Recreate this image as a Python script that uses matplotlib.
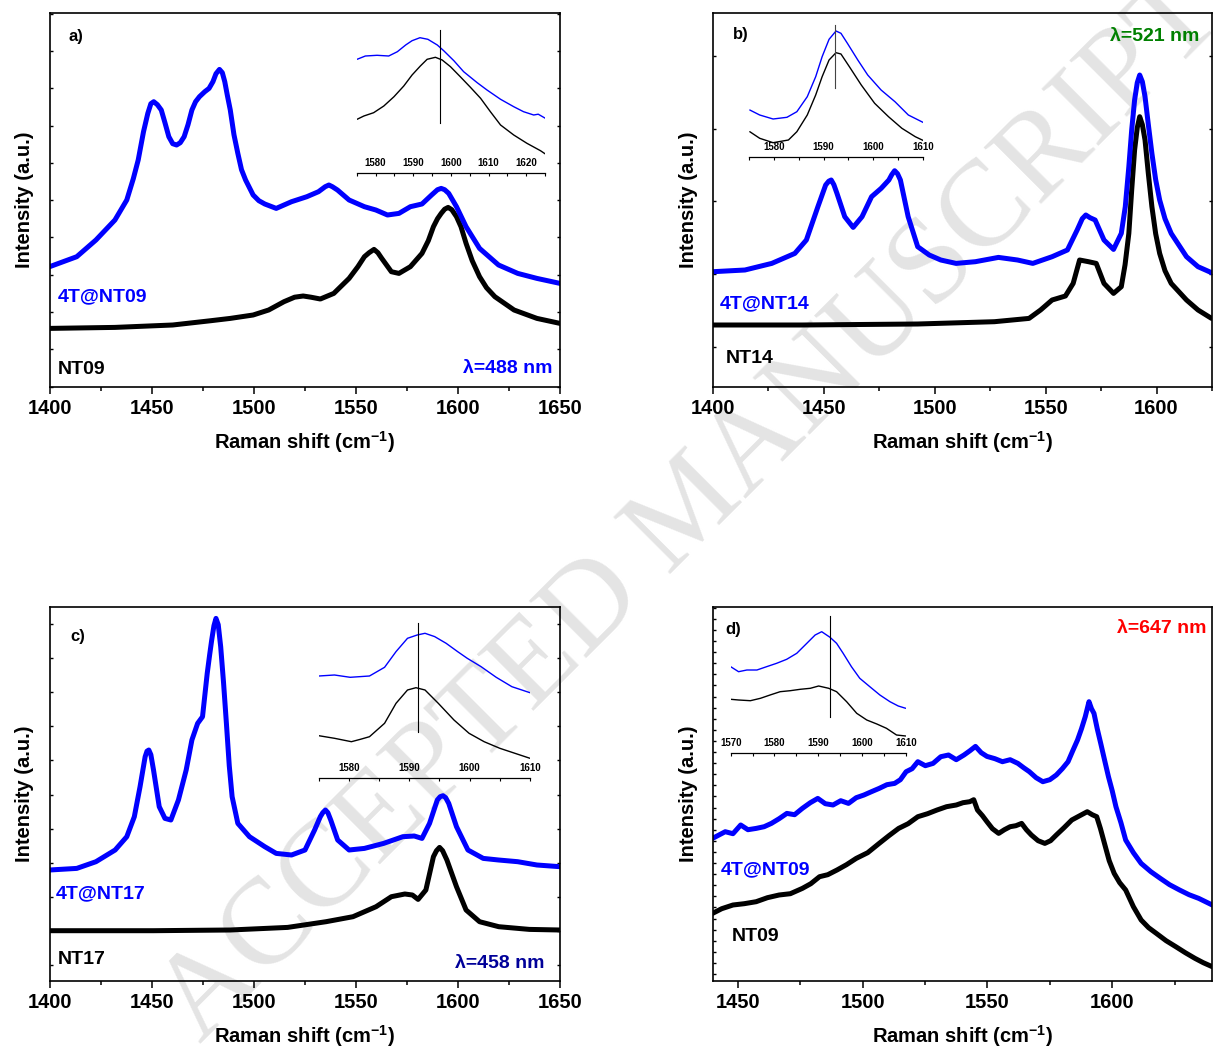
import matplotlib

matplotlib.use("Agg")
import matplotlib.pyplot as plt
import numpy as np
from matplotlib.ticker import FixedLocator, MultipleLocator

plt.rcParams["font.family"] = ["Liberation Sans", "DejaVu Sans"]
plt.rcParams["font.weight"] = "bold"
plt.rcParams["axes.labelweight"] = "bold"
plt.rcParams["mathtext.fontset"] = "custom"
plt.rcParams["mathtext.rm"] = "Liberation Sans:bold"
plt.rcParams["mathtext.bf"] = "Liberation Sans:bold"
plt.rcParams["mathtext.default"] = "rm"

W, H = 1214, 1053
BLUE = "#0000ff"

# ---- panel a: lambda = 488 nm, NT09 / 4T@NT09 ----
a_blue_x = [1400, 1413.3, 1422.7, 1432, 1437.8, 1441, 1443.4, 1446, 1448.1, 1449.6, 1451, 1452.8,
            1454.7, 1456.5, 1458.4, 1460.3, 1462.2, 1464, 1465.9, 1467.8, 1469.7, 1471.5, 1473.4, 1476,
            1478.1, 1480, 1481.5, 1483.2, 1484.6, 1485.8, 1487, 1488.5, 1490.3, 1492.2, 1494, 1496,
            1499.7, 1502.5, 1505.4, 1511, 1518.5, 1526, 1531.7, 1535, 1536.8, 1538.5, 1541, 1546.7,
            1554.2, 1559.8, 1565.5, 1571.1, 1576.7, 1582.4, 1587.1, 1590, 1591.8, 1593.5, 1595.5,
            1599.3, 1604, 1610.6, 1619.9, 1629.3, 1638.7, 1650]
a_blue_y = [120, 130, 146.7, 166.7, 186.7, 208, 226.7, 255, 273.3, 283, 285, 282,
            276.7, 264, 250, 243, 241.7, 244, 250, 262, 276.7, 285, 290, 295,
            298.3, 305, 313, 317.3, 314, 305, 292, 276.7, 252, 233.3, 217, 206.7,
            191.7, 186, 182.7, 178.3, 185, 190, 195, 200, 201.7, 200, 196.7, 186.7,
            180, 176.7, 171.7, 173.3, 180, 182.7, 191.7, 197, 198.3, 197, 193.3,
            180, 160, 138.3, 121.7, 113.3, 108.3, 103.3]
a_black_x = [1400, 1432, 1460.3, 1479, 1488.5, 1499.7, 1507.3, 1514.8, 1520, 1524.2, 1528, 1532.6,
             1539.2, 1546.7, 1551, 1554.2, 1556.5, 1558.9, 1560.8, 1562.7, 1567.4, 1571.1, 1576.7,
             1582.4, 1585.5, 1588, 1590, 1591.8, 1593.5, 1595.2, 1597, 1599.3, 1601.5, 1604, 1607,
             1610.6, 1614, 1618.1, 1627.5, 1638.7, 1650]
a_black_y = [58.3, 59.3, 61.7, 66, 68.3, 71.7, 76.7, 85, 89.5, 90.7, 89.5, 87.7,
             93.3, 108.3, 120, 130, 134, 137.3, 134, 128.3, 115, 113.3, 120,
             133.3, 146, 160, 168, 173.3, 177.5, 179.3, 177, 170, 160, 143.3, 126,
             110, 99, 90, 76.7, 68.3, 63.3]
a_ins_blue_x = [1575.1, 1577.3, 1580.4, 1583.5, 1585.8, 1588, 1589.7, 1591.8, 1593.9, 1596.4, 1598.1,
                1600.8, 1603.4, 1607, 1609.6, 1613.2, 1616.7, 1619.3, 1622, 1623.2, 1625.1]
a_ins_blue_y = [113.4, 116.7, 117.4, 116.7, 121, 127.7, 132, 135, 133.4, 127.7, 122,
                112, 101, 90, 82.7, 73.4, 66, 61, 57.7, 58.5, 54.4]
a_ins_black_x = [1575.1, 1576.9, 1579.5, 1582.2, 1584.9, 1587.5, 1589.7, 1591.9, 1593.7, 1595.9, 1597.7,
                 1599.9, 1602.5, 1605.2, 1607.9, 1610.5, 1613.2, 1616.7, 1620.2, 1623.8, 1625.1]
a_ins_black_y = [53.4, 56.7, 60, 66.7, 76, 86.7, 97.7, 106.7, 113.4, 115.4, 112.7,
                 106, 96, 85.4, 74.4, 61, 47.7, 37.7, 29.4, 22, 18.7]
a_mark = 1597

# ---- panel b: lambda = 521 nm, NT14 / 4T@NT14 ----
b_blue_x = [1400, 1414.4, 1426.5, 1436.9, 1442.1, 1447.3, 1450.8, 1452.2, 1453.3, 1454.5, 1455.9, 1459.4,
            1463.2, 1467.2, 1471.5, 1475.8, 1479.3, 1480.6, 1481.9, 1483.2, 1484.5, 1488, 1492.3, 1497.5,
            1502.7, 1509.6, 1518.3, 1528.7, 1537.3, 1544.2, 1552.9, 1559.8, 1564.2, 1566.5, 1568.1, 1570,
            1572.3, 1576.3, 1580.6, 1584.1, 1585.9, 1587.5, 1588.8, 1590.1, 1591.3, 1592.4, 1593.6,
            1594.8, 1596.3, 1597.9, 1599.6, 1601.4, 1603.8, 1606.6, 1613.5, 1618.7, 1624.8]
b_blue_y = [115, 116.7, 123.3, 133.3, 146.7, 180, 201.7, 205.5, 206.7, 202, 193.3, 170,
            159.3, 170, 190, 198.3, 206.7, 212, 216, 213, 206.7, 170, 140, 131.7,
            126.7, 123.3, 125, 129.3, 126.7, 123.3, 130, 136.7, 156.7, 168, 171.7, 169,
            166.7, 146.7, 137.3, 153.3, 180, 220, 257, 286.7, 304, 311.7, 305,
            290, 262, 233.3, 207, 186.7, 168, 153.3, 130, 120, 114]
b_black_x = [1400, 1440.3, 1492.3, 1526.9, 1542.5, 1547.7, 1552.9, 1558.9, 1562.4, 1565.3, 1569.3,
             1572.8, 1576.3, 1580.6, 1584.1, 1585.8, 1587.5, 1588.8, 1590.1, 1591.3, 1592.4, 1593.6,
             1594.8, 1596.3, 1597.9, 1599.6, 1601.4, 1603.8, 1606.6, 1613.5, 1618.7, 1624.8]
b_black_y = [61.7, 61.7, 62.7, 65, 68.3, 76.7, 86.7, 90.7, 103.3, 126.7, 125,
             123.3, 103.3, 93.3, 100, 122, 153.3, 197, 236.7, 259, 270, 262,
             246.7, 213, 180, 153, 133.3, 116, 103.3, 86.7, 76.7, 68.3]
b_ins_blue_x = [1575.1, 1577.1, 1579.8, 1582.6, 1584.6, 1586.7, 1588.4, 1589.7, 1591.1, 1592.5, 1593.5,
                1594.8, 1596.9, 1598.9, 1601.6, 1604.4, 1607.1, 1610.2]
b_ins_blue_y = [46.7, 41.7, 37.7, 39.4, 45, 60, 80, 100, 117.4, 125.7, 123.4,
                113.4, 96.7, 81.7, 66.7, 55, 41.7, 34]
b_ins_black_x = [1575.1, 1577.1, 1579.8, 1582.9, 1584.6, 1586.7, 1588.4, 1589.7, 1591.1, 1592.5, 1593.5,
                 1595.2, 1597.6, 1600.3, 1603.1, 1605.8, 1608.5, 1610.2]
b_ins_black_y = [25, 18.4, 14, 16.7, 25, 41.7, 61.7, 80, 96.7, 104, 102.7,
                 90, 71.7, 53.4, 40, 28.4, 20, 16]
b_mark = 1592.3

# ---- panel c: lambda = 458 nm, NT17 / 4T@NT17 ----
c_blue_x = [1400, 1413.3, 1422.7, 1432.1, 1437.8, 1441.5, 1444.3, 1446.8, 1447.7, 1448.6, 1449.6, 1450.9,
            1453.7, 1456.5, 1459.4, 1463.1, 1466.9, 1469.7, 1472.5, 1474.9, 1477.2, 1478.4, 1479.4,
            1480.5, 1481.5, 1482.6, 1483.8, 1485.2, 1486.6, 1488, 1489.4, 1492.2, 1497.9, 1505.4, 1511,
            1518.5, 1525.1, 1529.8, 1532.6, 1533.8, 1535.1, 1536.3, 1537.7, 1541.1, 1546.7, 1554.2,
            1563.6, 1573, 1578.6, 1582.4, 1586.1, 1589.9, 1591.3, 1592.7, 1594, 1595.5, 1599.3, 1604.9,
            1612.4, 1619.9, 1629.3, 1638.7, 1650]
c_blue_y = [110.7, 112.3, 119, 130.7, 144, 164, 194, 224, 229.5, 230.7, 226, 210.7,
            174, 162.3, 160.7, 180.7, 210.7, 240.7, 257.3, 264, 307.3, 326, 340.7,
            355, 362.3, 356, 334, 298, 257.3, 215, 184, 157.3, 144, 134, 127.3,
            125.7, 130.7, 150.7, 164, 168, 170.7, 168, 160.7, 140.7, 130.7, 132.3,
            137.3, 144, 144.7, 142.3, 157.3, 180.7, 184, 185, 183, 177.3, 154, 130.7,
            122.3, 120.7, 119, 115.7, 114]
c_black_x = [1400, 1450.9, 1488.5, 1516.6, 1535.4, 1548.6, 1559.9, 1567.4, 1574, 1577.7, 1580.5,
             1584.3, 1588, 1589.5, 1591, 1592.5, 1594.6, 1599.3, 1604, 1610.6, 1620, 1635, 1650]
c_black_y = [50, 50, 50.7, 53.3, 59, 64, 74, 84, 86.7, 85.7, 81.3,
             90.7, 124, 130, 133.3, 130, 120.7, 94, 70.7, 59, 54, 51.3, 50.7]
c_ins_blue_x = [1575, 1577.6, 1580.2, 1583.4, 1585.9, 1587.8, 1589.7, 1591.3, 1592.6, 1594.2, 1596.1,
                1598, 1599.6, 1601.9, 1604.4, 1607, 1610]
c_ins_blue_y = [102.3, 103.3, 101, 102.3, 111, 126.7, 140, 143.3, 145, 141.7, 135,
                126.7, 120, 111.6, 101, 91.6, 85.6]
c_ins_black_x = [1575, 1577.6, 1580.4, 1581.9, 1583.4, 1585.9, 1587.8, 1589.7, 1591.1, 1592.6, 1594.8,
                 1597.4, 1599.9, 1602.4, 1605, 1607.5, 1610]
c_ins_black_y = [42.6, 40, 36.6, 39, 41.6, 55, 75, 88.3, 90.6, 88.3, 75,
                 58.3, 45, 36.6, 30, 25, 20]
c_mark = 1591.5

# ---- panel d: lambda = 647 nm, NT09 / 4T@NT09 ----
d_blue_x = [1439.8, 1444.9, 1448, 1451.1, 1454, 1457.3, 1460.5, 1463.4, 1466.5, 1469.6, 1472.7, 1475.8,
            1479, 1482, 1485, 1488.1, 1491.2, 1494.3, 1497.4, 1500.5, 1503.5, 1506.6, 1509.7, 1512.8,
            1515.1, 1517.4, 1519.8, 1522.1, 1525.1, 1528.2, 1531.3, 1534.4, 1537.5, 1540.6, 1543, 1545.2,
            1547.5, 1549.8, 1553, 1556, 1559.1, 1562.2, 1564.5, 1566.8, 1569.5, 1572.2, 1575, 1577.6,
            1580, 1582.3, 1584.2, 1586.1, 1587.7, 1589.2, 1590.7, 1591.7, 1592.7, 1594, 1595.4,
            1597, 1598.5, 1600, 1601.5, 1603.5, 1605.4, 1608.5, 1611.6, 1615.5, 1619.3, 1623, 1627,
            1630.8, 1634.7, 1640.1]
d_blue_y = [142.3, 149, 147, 155.7, 151, 152.3, 154, 157.3, 162, 167.3, 166, 172.3,
            178, 182.3, 177, 175.7, 180, 177.3, 183, 185.7, 189, 192.3, 196, 197.3,
            201, 209, 212, 219, 215, 217.3, 224, 225.7, 221, 225.7, 230, 234.3,
            228, 224.3, 222, 219, 221, 217.3, 213, 209, 203, 199, 201, 205.7,
            212, 219, 230, 240.7, 252, 264, 279, 272, 267.3, 252, 237.3,
            220, 204, 190, 174, 158, 140.7, 128, 117.3, 109, 102.3, 96, 90.7,
            86, 82.3, 75.7]
d_black_x = [1439.8, 1443.5, 1448, 1452.5, 1457.3, 1461.8, 1466.5, 1471, 1475.8, 1479.2, 1482.7, 1486,
             1489.7, 1493.5, 1497.4, 1502, 1506.6, 1510.5, 1514.4, 1518.2, 1522.1, 1526, 1529.8, 1533.6,
             1537.5, 1540.2, 1542.9, 1544.5, 1546, 1548, 1549.8, 1552, 1554.5, 1556.8, 1559.1, 1561.4,
             1563.7, 1565.6, 1567.6, 1570.3, 1573, 1575.3, 1577.6, 1580.7, 1583.8, 1587, 1590, 1592,
             1593.8, 1595.3, 1596.9, 1598.8, 1600.8, 1603, 1605.4, 1608.5, 1611.6, 1614.6, 1617.7,
             1621.6, 1625.5, 1629.3, 1633.2, 1636.5, 1640.1]
d_black_y = [67.3, 72, 75.7, 77, 79, 83, 85.7, 87, 92.3, 97, 104, 106,
             110.7, 116, 122.3, 128, 137.3, 145, 152.3, 157, 164, 167, 170.7, 174,
             175.7, 178, 179, 181, 170.7, 165, 159, 152, 147.3, 151, 154, 155,
             157.3, 151, 145.7, 140, 137.3, 140, 145.7, 153, 160.7, 165, 169, 166,
             164, 152, 137.3, 120, 107.3, 98, 90.7, 74, 60.7, 53, 47.3,
             40, 34, 28, 22.3, 18, 14]
d_ins_blue_x = [1570, 1571.8, 1573.7, 1576, 1578.2, 1580.5, 1582.8, 1585.1, 1587.4, 1589.3, 1590.8,
                1592.7, 1594.2, 1595.7, 1597.6, 1599.5, 1601.8, 1604.1, 1606.4, 1608.3, 1610]
d_ins_blue_y = [86.6, 81.6, 83.3, 83.3, 86.6, 90, 94, 100, 110, 118.3, 121.6,
                116, 110, 100, 86.6, 75, 66.6, 58.3, 51.6, 47.3, 45]
d_ins_black_x = [1570, 1571.8, 1574.5, 1576.8, 1579, 1581.3, 1583.6, 1585.9, 1588.2, 1590.1, 1592.4,
                 1594.2, 1596.5, 1598.8, 1601.1, 1603.4, 1605.6, 1607.9, 1610]
d_ins_black_y = [54, 53.3, 52.6, 55, 58.3, 61.6, 62.6, 64, 65, 67.3, 65,
                 61.6, 51.6, 40, 33.3, 29.3, 25, 18.3, 17.3]
d_mark = 1592.7


def px_axes(fig, x0, y0, x1, y1):
    return fig.add_axes([x0 / W, 1 - y1 / H, (x1 - x0) / W, (y1 - y0) / H])


def main_panel(fig, box, xlim, xmaj, ytick0, ystep, right_ticks=True):
    ax = px_axes(fig, *box)
    ax.patch.set_alpha(0)
    height = box[3] - box[1]
    ax.set_xlim(*xlim)
    ax.set_ylim(0, height)
    ax.xaxis.set_major_locator(MultipleLocator(xmaj))
    ax.xaxis.set_minor_locator(MultipleLocator(xmaj / 2))
    ax.yaxis.set_major_locator(FixedLocator(np.arange(ytick0, height, ystep)))
    ax.tick_params(axis="x", which="major", direction="out", length=5, width=1.1,
                   labelsize=14.5, pad=4)
    ax.tick_params(axis="x", which="minor", direction="out", length=3, width=1.1)
    ax.tick_params(axis="y", direction="in", length=2.5, width=1, labelleft=False,
                   right=right_ticks)
    for s in ax.spines.values():
        s.set_linewidth(1.2)
    ax.set_xlabel(r"Raman shift (cm$^{-1}$)", fontsize=14.5, labelpad=8)
    ax.set_ylabel("Intensity (a.u.)", fontsize=14.5, labelpad=11)
    return ax


def inset(fig, box, xlim):
    ax = px_axes(fig, *box)
    ax.patch.set_alpha(0)
    ax.set_xlim(*xlim)
    ax.set_ylim(0, box[3] - box[1])
    for side in ("top", "left", "right"):
        ax.spines[side].set_visible(False)
    ax.spines["bottom"].set_linewidth(0.9)
    ax.set_yticks([])
    ax.xaxis.set_major_locator(MultipleLocator(10))
    ax.xaxis.set_minor_locator(MultipleLocator(5))
    ax.tick_params(axis="x", which="both", direction="out", length=2.2, width=0.8)
    ax.tick_params(axis="x", which="major", labelsize=7, pad=-13)
    return ax


def labels(ax, tag, blue_lab, black_lab, lam, lam_color, pos):
    kw = dict(transform=ax.transAxes, va="center", fontweight="bold")
    ax.text(*pos[0], tag, fontsize=12, ha="left", **kw)
    ax.text(*pos[1], blue_lab, fontsize=14, color=BLUE, ha="left", **kw)
    ax.text(*pos[2], black_lab, fontsize=14, color="black", ha="left", **kw)
    ax.text(*pos[3], lam, fontsize=14, color=lam_color, ha="right", **kw)


def draw(ax, bx, by, kx, ky, lw):
    ax.plot(kx, ky, color="black", lw=lw, solid_joinstyle="round", solid_capstyle="round")
    ax.plot(bx, by, color=BLUE, lw=lw, solid_joinstyle="round", solid_capstyle="round")


fig = plt.figure(figsize=(W / 100, H / 100), dpi=100)

# journal watermark, drawn underneath the (transparent) panels
fig.text(0.57, 0.515, "ACCEPTED MANUSCRIPT", fontsize=88, family=["Liberation Serif", "DejaVu Serif"],
         fontweight="normal", color="#e4e4e4", rotation=45, ha="center", va="center",
         rotation_mode="anchor", zorder=-5)

# panel a
ax = main_panel(fig, (49.6, 13.3, 560, 386.7), (1400, 1650), 50, 0, 37.3)
draw(ax, a_blue_x, a_blue_y, a_black_x, a_black_y, 3.6)
labels(ax, "a)", "4T@NT09", "NT09", "λ=488 nm", BLUE,
       [(0.038, 0.937), (0.0165, 0.241), (0.0165, 0.045), (0.9845, 0.049)])
ins = inset(fig, (356.7, 25, 545, 172.7), (1575, 1625))
draw(ins, a_ins_blue_x, a_ins_blue_y, a_ins_black_x, a_ins_black_y, 1.0)
ins.plot([a_mark, a_mark], [49.7, 142.7], color="black", lw=0.8)

# panel b
ax = main_panel(fig, (713, 13.3, 1212, 386.7), (1400, 1625), 50, 40, 72.7)
draw(ax, b_blue_x, b_blue_y, b_black_x, b_black_y, 3.6)
labels(ax, "b)", "4T@NT14", "NT14", "λ=521 nm", "#008000",
       [(0.039, 0.942), (0.0136, 0.223), (0.025, 0.076), (0.974, 0.937)])
ins = inset(fig, (749.3, 20, 922.7, 156.7), (1575, 1610))
draw(ins, b_ins_blue_x, b_ins_blue_y, b_ins_black_x, b_ins_black_y, 1.0)
ins.plot([b_mark, b_mark], [68.4, 131.7], color="#444444", lw=0.8)

# panel c
ax = main_panel(fig, (49.6, 607.3, 560, 980.7), (1400, 1650), 50, 15.7, 34.1)
draw(ax, c_blue_x, c_blue_y, c_black_x, c_black_y, 3.6)
labels(ax, "c)", "4T@NT17", "NT17", "λ=458 nm", "#000099",
       [(0.041, 0.921), (0.012, 0.232), (0.016, 0.057), (0.970, 0.047)])
ins = inset(fig, (318.8, 615, 530, 778.3), (1575, 1610))
draw(ins, c_ins_blue_x, c_ins_blue_y, c_ins_black_x, c_ins_black_y, 1.0)
ins.plot([c_mark, c_mark], [46.6, 155], color="black", lw=0.8)

# panel d
ax = main_panel(fig, (713, 607.3, 1212, 980.7), (1440, 1640), 50, 6.7, 11.1, right_ticks=False)
draw(ax, d_blue_x, d_blue_y, d_black_x, d_black_y, 3.6)
labels(ax, "d)", "4T@NT09", "NT09", "λ=647 nm", "#ff0000",
       [(0.025, 0.94), (0.015, 0.298), (0.037, 0.118), (0.989, 0.942)])
ins = inset(fig, (730.7, 605, 905.7, 753.3), (1570, 1610))
draw(ins, d_ins_blue_x, d_ins_blue_y, d_ins_black_x, d_ins_black_y, 1.0)
ins.plot([d_mark, d_mark], [36, 137.3], color="black", lw=0.8)

fig.savefig("out.png", dpi=100)
